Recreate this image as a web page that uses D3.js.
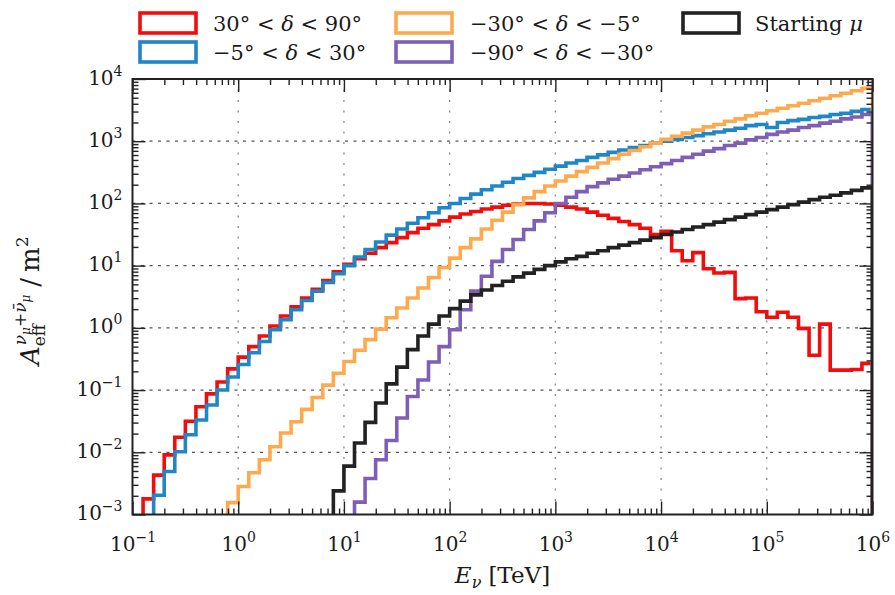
<!DOCTYPE html>
<html><head><meta charset="utf-8">
<script src="https://cdn.jsdelivr.net/npm/d3@7"></script>
<style>
body{margin:0;background:#fff}
svg{display:block}
text{font-family:"DejaVu Serif",serif;fill:#1a1a1a}
</style>
</head><body>
<svg id="c" width="895" height="595"></svg>
<script>
// ---------------- DATA ----------------
// bin edges: 10 bins per decade from 1e-1 to 1e6 TeV (71 edges, 70 bins)
const binEdges = d3.range(-10, 61).map(k => +(Math.pow(10, k / 10)).toPrecision(4));

// Effective areas (m^2) per bin; null = below plotted range
const red = [null,
  1.78e-3, 4.3e-3, 9.1e-3, 1.74e-2, 3.16e-2, 5.4e-2, 8.7e-2, 0.135, 0.219,
  0.339, 0.50, 0.74, 1.07, 1.55, 2.19, 3.02, 4.17, 5.75, 7.94,
  10.5, 12.9, 15.8, 19.5, 23.4, 28.2, 33.9, 39.8, 45.7, 52.5,
  60.3, 67.6, 74.1, 81.3, 87.1, 93.3, 97.7, 100, 100, 97.7,
  93.3, 87.1, 81.3, 72.4, 64.6, 57.5, 51.3, 45.7, 39.8, 31.6,
  35.5, 17.4, 12.0, 16.2, 8.9, 7.6, 7.8, 2.95, 3.02, 1.82,
  1.48, 1.78, 1.48, 0.98, 0.363, 1.15, 0.209, 0.209, 0.214, 0.269];

const blue = [null, null,
  2.04e-3, 4.9e-3, 1.02e-2, 1.91e-2, 3.31e-2, 5.75e-2, 0.100, 0.162,
  0.257, 0.398, 0.603, 0.933, 1.35, 1.95, 2.75, 3.89, 5.37, 7.41,
  10.0, 13.8, 18.2, 24.0, 30.9, 38.9, 47.9, 58.9, 70.8, 85.1,
  100, 120, 141, 166, 191, 219, 251, 282, 316, 355,
  398, 447, 490, 550, 603, 661, 724, 794, 851, 933,
  1000, 1070, 1150, 1230, 1320, 1410, 1510, 1620, 1780, 1860,
  1660, 2000, 2140, 2240, 2400, 2510, 2690, 2820, 3020, 3240];

const orange = [null, null, null, null, null, null, null, null, null,
  1.55e-3,
  2.82e-3, 4.68e-3, 7.59e-3, 1.23e-2, 2.04e-2, 3.09e-2, 4.9e-2, 7.59e-2, 0.120, 0.186,
  0.288, 0.437, 0.646, 0.955, 1.45, 2.09, 3.02, 4.37, 6.46, 9.33,
  13.2, 19.5, 26.9, 38.9, 53.7, 72.4, 95.5, 123, 155, 191,
  229, 275, 324, 380, 447, 525, 617, 708, 813, 933,
  1070, 1200, 1350, 1510, 1700, 1860, 2090, 2290, 2570, 2820,
  3090, 3390, 3720, 4070, 4470, 4900, 5370, 5890, 6460, 7080];

const purple = [null, null, null, null, null, null, null, null, null, null,
  null, null, null, null, null, null, null, null, null, null,
  null, 1.58e-3, 3.8e-3, 7.6e-3, 1.55e-2, 3.55e-2, 7.9e-2, 0.145, 0.282, 0.50,
  0.93, 1.95, 3.89, 6.76, 11.7, 18.2, 26.3, 38.0, 52.5, 70.8,
  100, 126, 155, 186, 214, 245, 275, 309, 347, 389,
  437, 490, 550, 617, 692, 759, 851, 933, 1050, 1150,
  1290, 1410, 1510, 1660, 1780, 1950, 2090, 2290, 2450, 2690];

const black = [null, null, null, null, null, null, null, null, null, null,
  null, null, null, null, null, null, null, null, null, 2.4e-3,
  6.0e-3, 1.41e-2, 3.02e-2, 6.2e-2, 0.126, 0.234, 0.447, 0.741, 1.15, 1.55,
  2.04, 2.69, 3.39, 4.07, 4.79, 5.62, 6.61, 7.59, 8.71, 10.0,
  11.5, 12.9, 14.1, 15.8, 17.4, 19.5, 21.4, 23.4, 25.7, 28.2,
  31.6, 34.7, 38.0, 41.7, 45.7, 50.1, 55.0, 60.3, 66.1, 72.4,
  79.4, 87.1, 95.5, 105, 115, 126, 135, 148, 162, 178];

const seriesNames = ["30° < δ < 90°", "−5° < δ < 30°", "−30° < δ < −5°", "−90° < δ < −30°", "Starting μ"];
const seriesColors = ["#f20c0c", "#1f86c8", "#ffa94f", "#7d5fb6", "#222222"];
const seriesData = [red, blue, orange, purple, black];

const xTickValues = [1e-1, 1, 1e1, 1e2, 1e3, 1e4, 1e5, 1e6];
const xTickExps = ["−1", "0", "1", "2", "3", "4", "5", "6"];
const yTickValues = [1e-3, 1e-2, 1e-1, 1, 1e1, 1e2, 1e3, 1e4];
const yTickExps = ["−3", "−2", "−1", "0", "1", "2", "3", "4"];

// ---------------- CHART ----------------
const svg = d3.select("#c");
const m = {l: 132.5, r: 872.5, t: 79, b: 514.5};
const x = d3.scaleLog().domain([1e-1, 1e6]).range([m.l, m.r]);
const y = d3.scaleLog().domain([1e-3, 1e4]).range([m.b, m.t]);

function minors(lo, hi) {
  const out = [];
  for (let k = lo; k < hi; k++) for (let j = 2; j <= 9; j++) out.push(j * Math.pow(10, k));
  return out;
}
const xMinor = minors(-1, 6), yMinor = minors(-3, 4);

svg.append("clipPath").attr("id", "clip").append("rect")
  .attr("x", m.l).attr("y", m.t).attr("width", m.r - m.l).attr("height", m.b - m.t);

// grid
const grid = svg.append("g");
grid.selectAll("line.v").data(xTickValues.slice(1, -1)).join("line")
  .attr("x1", d => x(d)).attr("x2", d => x(d)).attr("y1", m.t).attr("y2", m.b)
  .attr("stroke", "#8a8a8a").attr("stroke-width", 1.3).attr("stroke-dasharray", "2,8.5");
grid.selectAll("line.h").data(yTickValues.slice(1, -1)).join("line")
  .attr("x1", m.l).attr("x2", m.r).attr("y1", d => y(d)).attr("y2", d => y(d))
  .attr("stroke", "#555").attr("stroke-width", 1.2).attr("stroke-dasharray", "3,5.5");

// histograms
const plot = svg.append("g").attr("clip-path", "url(#clip)");
seriesData.forEach((vals, si) => {
  let i0 = vals.findIndex(v => v !== null);
  const pts = [[x(binEdges[i0]), m.b + 20]];
  for (let i = i0; i < vals.length; i++) {
    const v = vals[i];
    const yy = v === null ? m.b + 20 : y(v);
    pts.push([x(binEdges[i]), yy]);
    pts.push([x(binEdges[i + 1]), yy]);
  }
  pts.push([x(binEdges[vals.length]), m.b + 20]);
  plot.append("path").attr("d", d3.line()(pts))
    .attr("fill", "none").attr("stroke", seriesColors[si])
    .attr("stroke-width", 3.6).attr("stroke-linejoin", "miter");
});

// axes (ticks inward on all sides)
function styleAxis(g) {
  g.select(".domain").remove();
  g.selectAll(".tick line").attr("stroke", "#222").attr("stroke-width", 1.4);
}
const MAJ = 13, MIN = 6;
svg.append("g").attr("transform", `translate(0,${m.b})`)
  .call(d3.axisBottom(x).tickValues(xMinor).tickSize(-MIN).tickFormat("")).call(styleAxis);
svg.append("g").attr("transform", `translate(0,${m.t})`)
  .call(d3.axisTop(x).tickValues(xMinor).tickSize(-MIN).tickFormat("")).call(styleAxis);
svg.append("g").attr("transform", `translate(0,${m.t})`)
  .call(d3.axisTop(x).tickValues(xTickValues).tickSize(-MAJ).tickFormat("")).call(styleAxis);
svg.append("g").attr("transform", `translate(${m.l},0)`)
  .call(d3.axisLeft(y).tickValues(yMinor).tickSize(-MIN).tickFormat("")).call(styleAxis);
svg.append("g").attr("transform", `translate(${m.r},0)`)
  .call(d3.axisRight(y).tickValues(yMinor).tickSize(-MIN).tickFormat("")).call(styleAxis);
svg.append("g").attr("transform", `translate(${m.r},0)`)
  .call(d3.axisRight(y).tickValues(yTickValues).tickSize(-MAJ).tickFormat("")).call(styleAxis);

const xAx = svg.append("g").attr("transform", `translate(0,${m.b})`)
  .call(d3.axisBottom(x).tickValues(xTickValues).tickSize(-MAJ).tickPadding(10).tickFormat(() => ""))
  .call(styleAxis);
xAx.selectAll(".tick text").each(function(d, i) {
  const t = d3.select(this).attr("y", 36).attr("dy", null)
    .attr("text-anchor", "middle").style("font-size", "20px").attr("fill", "#1a1a1a");
  t.text(null);
  t.append("tspan").text("10");
  t.append("tspan").attr("dy", -9).style("font-size", "14px").text(xTickExps[i]);
});

const yAx = svg.append("g").attr("transform", `translate(${m.l},0)`)
  .call(d3.axisLeft(y).tickValues(yTickValues).tickSize(-MAJ).tickPadding(10).tickFormat(() => ""))
  .call(styleAxis);
yAx.selectAll(".tick text").each(function(d, i) {
  const t = d3.select(this).attr("x", -10).attr("dy", null).attr("y", 5)
    .attr("text-anchor", "end").style("font-size", "20px").attr("fill", "#1a1a1a");
  t.text(null);
  t.append("tspan").text("10");
  t.append("tspan").attr("dy", -9).style("font-size", "14px").text(yTickExps[i]);
});

// frame
svg.append("rect").attr("x", m.l).attr("y", m.t).attr("width", m.r - m.l).attr("height", m.b - m.t)
  .attr("fill", "none").attr("stroke", "#222").attr("stroke-width", 2);

// math text helper
function mathText(g, parts) {
  let cur = 0, maxX = 0; const marks = {};
  parts.forEach(p => {
    let sx = p.at !== undefined ? marks[p.at] : (p.fromMax ? maxX : cur);
    if (p.mark) marks[p.mark] = sx;
    sx += (p.dx || 0);
    const t = g.append("text").attr("x", sx).attr("y", p.dy || 0)
      .style("font-size", p.fs + "px").style("font-style", p.it ? "italic" : "normal").text(p.t);
    const w = t.node().getComputedTextLength();
    cur = sx + w; maxX = Math.max(maxX, cur);
  });
  return maxX;
}

// x label
const xl = svg.append("g");
const xw = mathText(xl, [
  {t: "E", fs: 23, it: true},
  {t: "ν", fs: 16, it: true, dy: 5},
  {t: "[TeV]", fs: 23, dx: 7}
]);
xl.attr("transform", `translate(${(m.l + m.r) / 2 - xw / 2},583)`);

// y label
const ylo = svg.append("g").attr("transform", `translate(39,${(m.t + m.b) / 2 + 4}) rotate(-90)`);
const yli = ylo.append("g");
const yw = mathText(yli, [
  {t: "A", fs: 26, it: true},
  {t: "eff", fs: 17, dy: 6, mark: "s"},
  {t: "ν", fs: 17, it: true, dy: -13, at: "s", dx: 1},
  {t: "μ", fs: 12, it: true, dy: -9},
  {t: "+", fs: 17, dy: -13},
  {t: "ν̄", fs: 17, it: true, dy: -13},
  {t: "μ", fs: 12, it: true, dy: -9},
  {t: "/", fs: 26, fromMax: true, dx: 8},
  {t: "m", fs: 26, dx: 6},
  {t: "2", fs: 17, dy: -11}
]);
yli.attr("transform", `translate(${-yw / 2},0)`);

// legend
const legendBoxX = [140, 140, 396, 396, 683];
const legendRowY = [13, 42, 13, 42, 13];
const legendTextX = [213, 213, 470, 470, 755];
seriesNames.forEach((name, i) => {
  svg.append("rect").attr("x", legendBoxX[i]).attr("y", legendRowY[i]).attr("width", 56).attr("height", 20)
    .attr("fill", "#fff").attr("stroke", seriesColors[i]).attr("stroke-width", 3.6);
  const t = svg.append("text").attr("x", legendTextX[i]).attr("y", legendRowY[i] + 18).style("font-size", "21px");
  const parts = name.split(/([δμ])/);
  parts.forEach(p => {
    if (!p) return;
    t.append("tspan").style("font-style", (p === "δ" || p === "μ") ? "italic" : "normal").text(p);
  });
});
</script>
</body></html>
